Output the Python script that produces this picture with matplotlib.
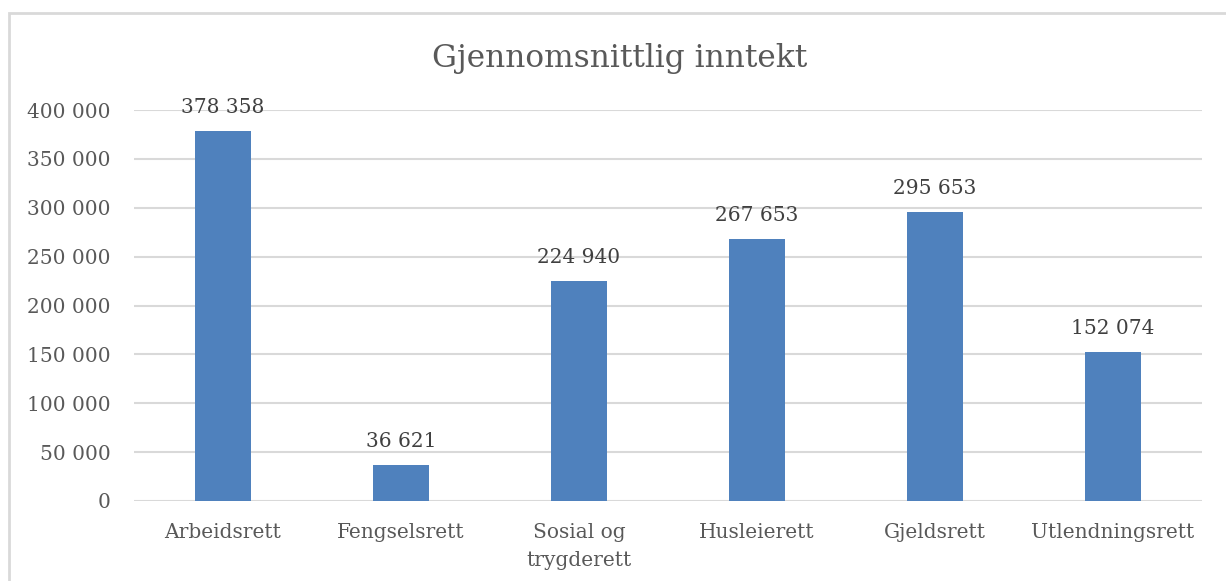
import matplotlib.pyplot as plt
from matplotlib.patches import Rectangle
from matplotlib.ticker import FuncFormatter

categories = ['Arbeidsrett', 'Fengselsrett', 'Sosial og\ntrygderett', 'Husleierett', 'Gjeldsrett', 'Utlendningsrett']
values = [378358, 36621, 224940, 267653, 295653, 152074]
yticks = [0, 50000, 100000, 150000, 200000, 250000, 300000, 350000, 400000]

def fmt(v):
    return f'{int(v):,}'.replace(',', ' ')

plt.rcParams['font.family'] = 'DejaVu Serif'
text_color = '#595959'

fig = plt.figure(figsize=(12.26, 5.81), dpi=100)
ax = fig.add_axes([134 / 1226, 1 - 501 / 581, 1068 / 1226, 391 / 581])

x = range(len(categories))
ax.bar(x, values, width=0.315, color='#4f81bd', zorder=3)
for i, v in zip(x, values):
    ax.annotate(fmt(v), (i, v), xytext=(0, 10), textcoords='offset points',
                ha='center', va='bottom', fontsize=14.5, color='#404040')

ax.set_xlim(-0.5, len(categories) - 0.5)
ax.set_ylim(0, 400000)
ax.set_yticks(yticks)
ax.yaxis.set_major_formatter(FuncFormatter(lambda v, p: fmt(v)))
ax.set_xticks(list(x))
ax.set_xticklabels(categories, linespacing=1.6)
ax.tick_params(axis='both', length=0, labelsize=14.5, colors=text_color)
ax.tick_params(axis='x', pad=16)
ax.tick_params(axis='y', pad=17)
ax.grid(axis='y', color='#d9d9d9', linewidth=1.5, zorder=0)
for s in ax.spines.values():
    s.set_visible(False)

fig.text(620 / 1226, 1 - 58 / 581, 'Gjennomsnittlig inntekt', ha='center', va='center',
         fontsize=22.5, color=text_color)

fig.patches.append(Rectangle((9 / 1226, -0.1), 1.2, 1 - 13 / 581 + 0.1,
                             transform=fig.transFigure, fill=False,
                             edgecolor='#d9d9d9', linewidth=2))

fig.savefig('out.png', dpi=100)
